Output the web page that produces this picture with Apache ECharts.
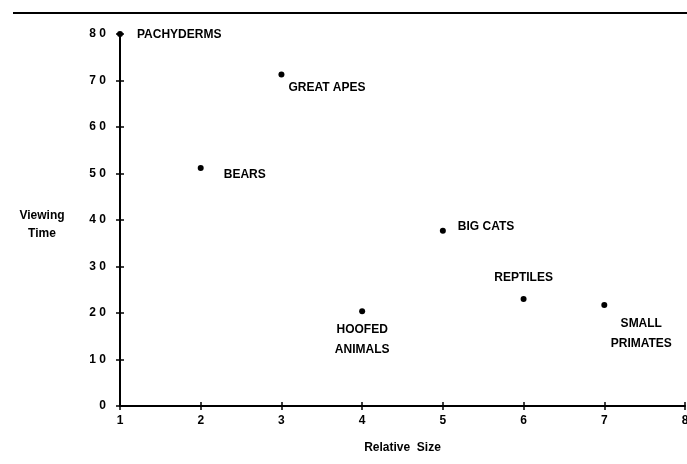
<!DOCTYPE html>
<html>
<head>
<meta charset="utf-8">
<script src="https://cdn.jsdelivr.net/npm/echarts@6/dist/echarts.min.js"></script>
<style>
    html,body{margin:0;padding:0;background:#fff;}
</style>
</head>
<body>
<div id="main" style="width:687px;height:464px;"></div>
<script>
    var exhibits = ['PACHYDERMS', 'GREAT APES', 'BEARS', 'BIG CATS', 'HOOFED\nANIMALS', 'REPTILES', 'SMALL\nPRIMATES'];
    var relativeSize = [1, 3, 2, 5, 4, 6, 7];
    var viewingTime = [80, 71.3, 51.2, 37.7, 20.4, 23, 21.7];

    var font = '"Liberation Sans", Arial, sans-serif';

    // where each label sits relative to its dot
    var labelPlace = [
        {position: 'right', distance: 14, offset: [0, 1]},
        {position: 'right', distance: 4, offset: [0, 13]},
        {position: 'right', distance: 20, offset: [0, 7]},
        {position: 'right', distance: 12, offset: [0, -4]},
        {position: 'bottom', distance: 6, offset: [0, 0], align: 'center'},
        {position: 'top', distance: 8, offset: [0, 0], align: 'center'},
        {position: 'bottom', distance: 6, offset: [37, 0], align: 'center'}
    ];

    var points = relativeSize.map(function (x, i) {
        var p = labelPlace[i];
        return {
            value: [x, viewingTime[i]],
            label: {
                show: true,
                formatter: exhibits[i],
                position: p.position,
                distance: p.distance,
                offset: p.offset,
                align: p.align || 'left',
                color: '#000',
                fontFamily: font,
                fontSize: 12,
                fontWeight: 'bold',
                lineHeight: 20
            }
        };
    });

    var tickStyle = {color: '#000', width: 1.5};
    var labelStyle = {color: '#000', fontFamily: font, fontSize: 12, fontWeight: 'bold'};

    var myChart = echarts.init(document.getElementById('main'));
    var option = {
        animation: false,
        backgroundColor: '#fff',
        grid: {
            left: 120,
            right: 2,
            top: 34,
            bottom: 58,
            outerBoundsMode: 'none',
            containLabel: false
        },
        graphic: [{
            type: 'line',
            shape: {x1: 13, y1: 13, x2: 687, y2: 13},
            style: {stroke: '#000', lineWidth: 2}
        }],
        xAxis: [{
            type: 'value',
            min: 1,
            max: 8,
            interval: 1,
            name: 'Relative  Size',
            nameLocation: 'middle',
            nameGap: 36,
            nameTextStyle: labelStyle,
            axisLine: {show: true, lineStyle: {color: '#000', width: 2}},
            axisTick: {show: true, length: 4, lineStyle: tickStyle},
            axisLabel: Object.assign({margin: 9}, labelStyle),
            splitLine: {show: false}
        }, {
            // second copy only for the inner half of the crossing ticks
            type: 'value',
            min: 1,
            max: 8,
            interval: 1,
            position: 'bottom',
            axisLine: {show: false},
            axisTick: {show: true, inside: true, length: 4, lineStyle: tickStyle},
            axisLabel: {show: false},
            splitLine: {show: false}
        }],
        yAxis: [{
            type: 'value',
            min: 0,
            max: 80,
            interval: 10,
            name: '{g|}\n{t|Viewing}\n{t|Time}',
            nameLocation: 'middle',
            nameGap: 78,
            nameRotate: 0,
            nameTextStyle: Object.assign({
                align: 'center',
                rich: {
                    g: {lineHeight: 10},
                    t: Object.assign({lineHeight: 18, align: 'center'}, labelStyle)
                }
            }, labelStyle),
            axisLine: {show: true, lineStyle: {color: '#000', width: 2}},
            axisTick: {show: true, length: 4, lineStyle: tickStyle},
            axisLabel: Object.assign({
                margin: 14,
                formatter: function (v) { return String(v).split('').join(' '); }
            }, labelStyle),
            splitLine: {show: false}
        }, {
            type: 'value',
            min: 0,
            max: 80,
            interval: 10,
            position: 'left',
            axisLine: {show: false},
            axisTick: {show: true, inside: true, length: 4, lineStyle: tickStyle},
            axisLabel: {show: false},
            splitLine: {show: false}
        }],
        series: [{
            type: 'scatter',
            xAxisIndex: 0,
            yAxisIndex: 0,
            symbol: 'circle',
            symbolSize: 6,
            itemStyle: {color: '#000', opacity: 1},
            data: points
        }]
    };
    myChart.setOption(option);
</script>
</body>
</html>
